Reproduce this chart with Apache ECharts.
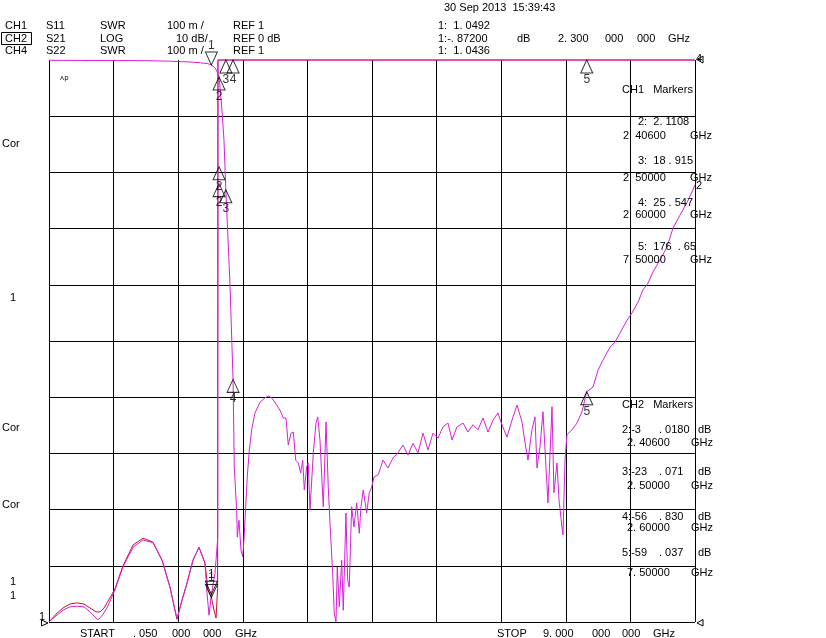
<!DOCTYPE html>
<html><head><meta charset="utf-8">
<script src="https://cdn.jsdelivr.net/npm/echarts@6/dist/echarts.min.js"></script>
<style>html,body{margin:0;padding:0;background:#fff}#c{width:826px;height:638px}</style>
</head><body><div id="c"></div>
<script>
// ---------------- data ----------------
const xStart = 0.05, xStop = 9.0;           // GHz
const dbMin = -100, dbMax = 0;               // CH2 S21 LOG 10 dB/div
const swrMin = 1.0, swrMax = 2.0;            // CH1/CH4 SWR 100 m/div
const gridDivs = ['0','1','2','3','4','5','6','7','8','9','10'];

// CH2 S21 (dB)
const s21Freq = [0.05,0.5,1.0,1.4,1.7,1.9,2.05,2.15,2.25,2.3,2.35,2.38,2.406,2.443,2.474,2.488,2.5,2.557,2.6,2.617,2.65,2.659,2.682,2.71,2.733,2.751,2.775,2.797,2.825,2.858,2.904,2.973,3.043,3.089,3.135,3.204,3.25,3.296,3.333,3.365,3.403,3.435,3.468,3.504,3.537,3.565,3.587,3.62,3.642,3.666,3.712,3.749,3.773,3.804,3.85,3.888,3.919,3.943,3.98,4.002,4.026,4.044,4.072,4.105,4.127,4.164,4.188,4.21,4.243,4.275,4.313,4.349,4.372,4.404,4.451,4.487,4.52,4.553,4.612,4.677,4.747,4.816,4.885,4.954,5.024,5.093,5.162,5.231,5.301,5.37,5.439,5.508,5.578,5.633,5.702,5.786,5.855,5.924,5.993,6.063,6.132,6.201,6.27,6.326,6.395,6.464,6.534,6.603,6.644,6.686,6.741,6.783,6.811,6.852,6.894,6.935,6.963,7.019,7.046,7.088,7.116,7.157,7.171,7.199,7.226,7.296,7.365,7.434,7.5,7.587,7.656,7.725,7.822,7.891,7.961,8.058,8.127,8.21,8.279,8.349,8.418,8.515,8.612,8.695,8.792,8.889,8.972,9.0];
const s21Val  = [-0.05,-0.08,-0.1,-0.12,-0.2,-0.3,-0.4,-0.5,-0.65,-0.872,-1.4,-2.1,-3.018,-8.4,-14.2,-19.0,-23.071,-39.7,-56.83,-72.4,-80.1,-84.9,-81.9,-87.2,-88.4,-85.4,-79.5,-74.2,-69.4,-65.8,-62.8,-60.9,-60.1,-59.8,-60.1,-61.4,-62.3,-63.7,-63.7,-68.5,-66.4,-66.2,-71.2,-71.7,-73.5,-71.2,-76.5,-72.4,-71.7,-80.1,-69.9,-64.6,-63.5,-67.6,-79.5,-64.4,-76.0,-82.4,-91.3,-98.4,-100,-90.2,-97.3,-89.0,-97.9,-80.6,-92.5,-93.8,-79.5,-83.1,-78.8,-84.2,-79.5,-76.5,-80.6,-77.0,-76.0,-74.2,-73.8,-71.2,-72.6,-70.8,-69.9,-68.5,-70.3,-68.2,-69.9,-66.4,-69.4,-66.4,-67.3,-65.3,-64.6,-67.6,-65.3,-64.6,-66.2,-64.9,-65.8,-63.7,-66.2,-64.1,-62.8,-64.9,-67.1,-64.1,-61.4,-64.4,-68.0,-71.2,-65.8,-63.5,-72.6,-68.9,-62.6,-72.4,-78.8,-61.7,-77.0,-71.7,-78.3,-83.1,-84.5,-71.2,-66.7,-65.8,-64.6,-62.6,-59.037,-58.2,-55.2,-53.4,-51.1,-50.2,-48.6,-46.3,-45.0,-43.1,-40.9,-39.7,-37.7,-35.6,-33.3,-29.9,-27.6,-25.4,-23.1,-22.2];

// CH1 S11 (SWR, as displayed; off-scale values sit on the top edge)
const s11Freq = [0.05,0.147,0.244,0.341,0.438,0.535,0.618,0.687,0.729,0.784,0.854,0.964,1.075,1.214,1.352,1.491,1.616,1.726,1.823,1.893,1.962,2.045,2.128,2.211,2.239,2.267,2.3,2.322,2.35,2.388,2.392,9.0];
const s11Val  = [1.000,1.011,1.021,1.027,1.028,1.027,1.018,1.009,1.004,1.011,1.025,1.057,1.098,1.133,1.146,1.141,1.110,1.062,1.005,1.039,1.069,1.110,1.133,1.105,1.052,1.012,1.0492,1.066,1.087,1.15,2.0,2.0];

// CH4 S22 (SWR, as displayed)
const s22Freq = [0.05,0.147,0.244,0.341,0.438,0.535,0.618,0.701,0.757,0.812,0.895,0.964,1.075,1.214,1.352,1.491,1.616,1.726,1.823,1.893,1.962,2.045,2.128,2.211,2.253,2.3,2.336,2.364,2.386,2.39,9.0];
const s22Val  = [1.000,1.014,1.025,1.032,1.034,1.032,1.025,1.018,1.018,1.025,1.043,1.059,1.100,1.137,1.149,1.142,1.110,1.062,1.005,1.039,1.069,1.110,1.133,1.105,1.057,1.0436,1.021,1.007,1.06,2.0,2.0];

// Markers
const ch2MarkerNo   = ['1','2','3','4','5'];
const ch2MarkerFreq = [2.3,2.406,2.5,2.6,7.5];
const ch2MarkerVal  = [-0.872,-3.018,-23.071,-56.83,-59.037];
const ch1MarkerNo   = ['1','2','3','4','5'];
const ch1MarkerFreq = [2.3,2.406,2.5,2.6,7.5];
const ch1MarkerVal  = [1.0492,2.1108,18.915,25.547,176.65];   // readout
const ch1MarkerShown= [1.0492,1.81,2.0,2.0,2.0];               // drawn position
const ch4MarkerNo   = ['1','2'];
const ch4MarkerFreq = [2.3,2.406];
const ch4MarkerShown= [1.0436,1.78];

// ---------------- chart ----------------
const MAG = '#d81fd8', RED = '#c8102e';
const FONT = '11px "Liberation Sans", Arial, sans-serif';
const UP = 'path://M6,0 L12,13 L0,13 Z';
const DOWN = 'path://M0,0 L12,0 L6,13 Z';

function zip(a,b){ return a.map((v,i)=>[v,b[i]]); }
function markerItems(no, f, v, active){
  return no.map((n,i)=>({name:n, value:[f[i], v[i]], active: n===active}));
}
function markerSeries(items, yIdx){
  const up = items.filter(d=>!d.active), down = items.filter(d=>d.active);
  const base = {type:'scatter', xAxisIndex:0, yAxisIndex:yIdx, silent:true, clip:false, z:5,
    itemStyle:{color:'rgba(0,0,0,0)', borderColor:'#000', borderWidth:1},
    label:{show:true, formatter:'{b}', color:'#000', font: FONT, distance:0}};
  return [
    Object.assign({}, base, {symbol:UP, symbolSize:[12,13], symbolOffset:[0,6.5],
      label:Object.assign({}, base.label, {position:'bottom'}),
      data: up.map(d=>({name:d.name, value:d.value}))}),
    Object.assign({}, base, {symbol:DOWN, symbolSize:[12,13], symbolOffset:[0,-6.5],
      label:Object.assign({}, base.label, {position:'top'}),
      data: down.map(d=>({name:d.name, value:d.value}))})
  ];
}

const texts = [
  ['30 Sep 2013  15:39:43', 444, 7.5],
  ['CH1',5,26],['S11',46,26],['SWR',100,26],['100 m /',167,26],['REF 1',233,26],
  ['CH2',5,38.5],['S21',46,38.5],['LOG',100,38.5],['10 dB/',176,38.5],['REF 0 dB',233,38.5],
  ['CH4',5,50.5],['S22',46,50.5],['SWR',100,50.5],['100 m /',167,50.5],['REF 1',233,50.5],
  ['1:  1. 0492',438,26],
  ['1:-. 87200',438,38.5],['dB',517,38.5],['2. 300',558,38.5],['000',605,38.5],['000',637,38.5],['GHz',668,38.5],
  ['1:  1. 0436',438,50.5],
  ['Cor',2,144],['1',10,298],['Cor',2,428],['Cor',2,505],['1',10,582],['1',10,596],
  ['START',80,634],['. 050',133,634],['000',172,634],['000',203,634],['GHz',235,634],
  ['STOP',497,634],['9. 000',543,634],['000',592,634],['000',622,634],['GHz',653,634],
  ['CH1   Markers',622,90],
  ['2:  2. 1108',638,122],['2. 40600',623,136],['GHz',690,136],
  ['3:  18 . 915',638,161],['2. 50000',623,178],['GHz',690,178],
  ['4:  25 . 547',638,203],['2. 60000',623,215],['GHz',690,215],
  ['5:  176  . 65',638,247],['7. 50000',623,260],['GHz',690,260],
  ['CH2   Markers',622,405],
  ['2:-3',622,430],['. 0180',659,430],['dB',698,430],['2. 40600',627,443],['GHz',691,443],
  ['3:-23',622,472],['. 071',659,472],['dB',698,472],['2. 50000',627,486],['GHz',691,486],
  ['4:-56',622,517],['. 830',659,517],['dB',698,517],['2. 60000',627,528],['GHz',691,528],
  ['5:-59',622,553],['. 037',659,553],['dB',698,553],['7. 50000',627,573],['GHz',691,573],
  ['2',696,186],['4',696,59],['1',39,617]
];
const graphic = texts.map(t=>({type:'text', x:t[1], y:t[2], z:100, silent:true,
  style:{text:t[0], font:FONT, fill:'#000', verticalAlign:'middle', align:'left'}}));
graphic.push({type:'text', x:60, y:78, z:100, silent:true,
  style:{text:'ʌp', font:'7px "DejaVu Sans", sans-serif', fill:'#000', verticalAlign:'middle'}});
graphic.push({type:'rect', z:100, silent:true, shape:{x:1.5,y:32.5,width:30,height:12},
  style:{fill:'none', stroke:'#000', lineWidth:1}});
[[[41.5,620],[41.5,626],[48,623]],[[703,56],[703,63],[697,59.5]],[[703,619.5],[703,626],[697,623]]]
  .forEach(p=>graphic.push({type:'polygon', z:100, silent:true, shape:{points:p},
    style:{fill:'none', stroke:'#000', lineWidth:1}}));

const chart = echarts.init(document.getElementById('c'), null, {renderer:'canvas'});
chart.setOption({
  animation:false,
  backgroundColor:'#fff',
  grid:{left:49, top:60, width:646, height:562, containLabel:false},
  xAxis:[
    {type:'value', min:xStart, max:xStop, show:false},
    {type:'value', min:0, max:10, interval:1, axisLine:{show:false}, axisTick:{show:false}, axisLabel:{show:false},
     splitLine:{show:true, lineStyle:{color:'#000', width:1}}}
  ],
  yAxis:[
    {type:'value', min:dbMin, max:dbMax, show:false},
    {type:'value', min:swrMin, max:swrMax, show:false},
    {type:'category', data:gridDivs, boundaryGap:false, axisLine:{show:false}, axisTick:{show:false}, axisLabel:{show:false},
     splitLine:{show:true, interval:(i)=>i<gridDivs.length-1, lineStyle:{color:'#000', width:1}}}
  ],
  series:[
    {type:'line', name:'S22', xAxisIndex:0, yAxisIndex:1, data:zip(s22Freq,s22Val), symbol:'none', clip:false,
     lineStyle:{color:RED, width:1}, z:2, silent:true},
    {type:'line', name:'S11', xAxisIndex:0, yAxisIndex:1, data:zip(s11Freq,s11Val), symbol:'none', clip:false,
     lineStyle:{color:MAG, width:1}, z:3, silent:true},
    {type:'line', name:'S21', xAxisIndex:0, yAxisIndex:0, data:zip(s21Freq,s21Val), symbol:'none', clip:false,
     lineStyle:{color:MAG, width:1}, z:4, silent:true},
    {type:'line', xAxisIndex:1, yAxisIndex:2, data:[], silent:true},
    ...markerSeries(markerItems(ch2MarkerNo, ch2MarkerFreq, ch2MarkerVal, '1'), 0),
    ...markerSeries(markerItems(ch1MarkerNo, ch1MarkerFreq, ch1MarkerShown, '1'), 1),
    ...markerSeries(markerItems(ch4MarkerNo, ch4MarkerFreq, ch4MarkerShown, '1'), 1)
  ],
  graphic: graphic
});
</script></body></html>
